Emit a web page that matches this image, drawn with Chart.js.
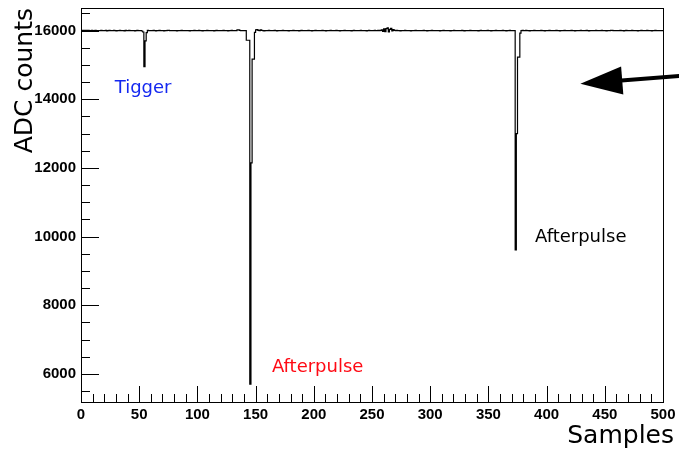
<!DOCTYPE html>
<html>
<head>
<meta charset="utf-8">
<script src="https://cdn.jsdelivr.net/npm/chart.js@4"></script>
<style>
  body { margin: 0; background: #fff; }
  canvas { display: block; }
</style>
</head>
<body>
<canvas id="grafico" width="679" height="450"></canvas>
<script>
// ADC counts per sample (bins 0..499)
const adc = [
  16010,16010,16000,16010,16000,16010,16010,16000,16000,16010,16000,16000,16010,15990,16000,16000,16000,16010,16000,16000,
  16000,16010,15990,16000,16010,16000,16000,16000,16010,16000,15990,16000,16000,16010,16000,16000,16000,15990,16010,16000,
  16000,16010,16000,16000,16000,16000,15990,16000,16010,16000,16000,16000,15990,15960,14950,15700,15940,16010,16000,16000,
  16000,16000,16010,16000,15990,16000,16000,16010,16000,16000,16000,15990,16000,16000,16010,16010,16000,16000,16000,16000,
  16000,16000,15990,16000,16000,16000,16010,16000,16000,16000,16000,16000,16000,15990,16000,16000,16000,16010,16000,16000,
  16000,16010,16000,16000,15990,16000,16000,16000,16010,16000,16000,16000,16000,16000,15990,16000,16010,16000,16000,16000,
  16000,16000,16010,16000,16000,16000,15990,16000,16000,16010,16000,16000,16000,16000,16020,16020,16010,16000,16000,16000,
  16000,16000,15720,15720,15720,5700,12150,15170,15170,15950,16020,16030,16010,16000,16020,16010,16000,15990,16000,16000,
  16000,16010,16000,16000,16000,16000,16010,16000,15990,16000,16000,16000,16000,16010,16000,16000,16000,16000,15990,16000,
  16000,16000,16010,16000,16000,16000,16000,15990,16000,16010,16000,16000,16000,16000,16000,16010,16000,16000,15990,16000,
  16000,16010,16000,16000,16000,16000,16000,16010,16000,16000,15990,16000,16000,16000,16010,16000,16000,16000,16000,16010,
  16000,16000,15990,16000,16000,16000,16010,16000,16000,16000,16000,16000,15990,16000,16010,16000,16000,16000,16000,16000,
  16010,16000,16000,16000,16000,15990,16000,16010,16000,16000,16000,16000,16010,16000,16000,16010,16000,16010,16020,15980,
  16050,15970,16060,16080,15960,16040,16070,15990,16030,16010,16000,16010,16000,16000,15990,16000,16000,16000,16010,16000,
  16000,16000,16000,15990,16000,16000,16000,16010,16000,16000,16000,16000,16000,16000,16010,16000,16000,15990,16000,16000,
  16000,16010,16000,16000,16000,16000,16000,16000,15990,16000,16000,16010,16000,16000,16000,16000,16000,15990,16000,16000,
  16010,16000,16000,16000,16000,16000,16000,16010,16000,15990,16000,16000,16000,16000,16010,16000,16000,16000,16000,16000,
  16000,15990,16000,16010,16000,16000,16000,16000,16000,16010,16000,16000,15990,16000,16000,16000,16010,16000,16000,16000,
  16000,16000,16010,16000,16000,15990,16000,16000,16010,16000,16000,16000,16000,9610,13000,15230,15230,15930,16000,16010,
  16000,16000,16010,16000,16000,15990,16000,16000,16000,16010,16000,16000,16000,16000,16000,16010,16000,16000,15990,16000,
  16000,16000,16010,16000,16000,16000,16000,16000,16010,16000,16000,15990,16000,16000,16000,16010,16000,16000,16000,16000,
  16000,16010,16000,16000,15990,16000,16000,16000,16000,16010,16000,16000,16000,16000,16010,16000,15990,16000,16000,16000,
  16000,16000,16010,16000,16000,16000,16000,16010,16000,16000,16000,15990,16000,16000,16000,16010,16010,16000,16000,16000,
  16000,16000,16000,16010,16000,16000,15990,16000,16010,16000,16000,16000,16000,16010,16000,16000,16000,16000,15990,16000,
  16000,16010,16000,16000,16000,16000,16010,16000,16000,16000,15990,16000,16000,16010,16000,16000,16000,16000,16000,16000
];

const xTicks = [0, 50, 100, 150, 200, 250, 300, 350, 400, 450, 500];
const yTicks = [6000, 8000, 10000, 12000, 14000, 16000];

// text labels: [text, sample, counts, colour]
const notes = [
  ["Tigger", 29, 14180, "#1428f0"],
  ["Afterpulse", 164, 6050, "#ff0a14"],
  ["Afterpulse", 390, 9830, "#000000"]
];
// arrow: tail -> tip in data units
const arrow = { from: [514, 14680], to: [429, 14450] };

const points = adc.map((v, i) => ({ x: i, y: v }));
points.push({ x: adc.length, y: adc[adc.length - 1] });

const rootFrame = {
  id: "rootFrame",
  afterDraw(chart) {
    const ctx = chart.ctx;
    const a = chart.chartArea;
    const xs = chart.scales.x, ys = chart.scales.y;
    ctx.save();
    ctx.strokeStyle = "#000";
    ctx.lineWidth = 1;
    ctx.strokeRect(a.left + 0.5, a.top + 0.5, a.right - a.left, a.bottom - a.top);

    // inside ticks
    ctx.beginPath();
    for (let v = 0; v <= 500; v += 10) {
      const px = Math.round(xs.getPixelForValue(v)) + 0.5;
      const len = v % 50 === 0 ? 16 : 8;
      ctx.moveTo(px, a.bottom);
      ctx.lineTo(px, a.bottom - len);
    }
    for (let v = 5500; v <= 16500; v += 500) {
      const py = Math.round(ys.getPixelForValue(v)) + 0.5;
      const len = v % 2000 === 0 ? 18 : 9;
      ctx.moveTo(a.left, py);
      ctx.lineTo(a.left + len, py);
    }
    ctx.stroke();

    // annotations
    ctx.font = "18px 'DejaVu Sans'";
    ctx.textBaseline = "alphabetic";
    ctx.textAlign = "left";
    notes.forEach(n => {
      ctx.fillStyle = n[3];
      ctx.fillText(n[0], xs.getPixelForValue(n[1]), ys.getPixelForValue(n[2]));
    });

    // arrow
    const x0 = xs.getPixelForValue(arrow.from[0]), y0 = ys.getPixelForValue(arrow.from[1]);
    const x1 = xs.getPixelForValue(arrow.to[0]), y1 = ys.getPixelForValue(arrow.to[1]);
    const dx = x1 - x0, dy = y1 - y0, d = Math.hypot(dx, dy);
    const ux = dx / d, uy = dy / d;
    const hl = 42, hw = 14;
    const bx = x1 - ux * hl, by = y1 - uy * hl;
    ctx.fillStyle = "#000";
    ctx.lineWidth = 4;
    ctx.beginPath();
    ctx.moveTo(x0, y0);
    ctx.lineTo(bx + ux * 4, by + uy * 4);
    ctx.stroke();
    ctx.beginPath();
    ctx.moveTo(x1, y1);
    ctx.lineTo(bx - uy * hw, by + ux * hw);
    ctx.lineTo(bx + uy * hw, by - ux * hw);
    ctx.closePath();
    ctx.fill();

    // axis titles
    ctx.fillStyle = "#000";
    ctx.font = "25px 'DejaVu Sans'";
    ctx.textAlign = "right";
    ctx.fillText("Samples", 674, 443);
    ctx.translate(32, 8);
    ctx.rotate(-Math.PI / 2);
    ctx.fillText("ADC counts", 0, 0);
    ctx.restore();
  }
};

const tickFont = { family: "'Liberation Sans'", size: 15, weight: "bold" };

const ctx = document.getElementById("grafico").getContext("2d");
const chart = new Chart(ctx, {
  type: "line",
  data: {
    datasets: [{
      label: "ADC",
      data: points,
      borderColor: "#000",
      borderWidth: 1.2,
      pointRadius: 0,
      stepped: true,
      fill: false
    }]
  },
  options: {
    responsive: false,
    animation: false,
    devicePixelRatio: 1,
    layout: { padding: { top: 8, right: 16, left: 0, bottom: 0 } },
    plugins: { legend: { display: false }, tooltip: { enabled: false } },
    scales: {
      x: {
        type: "linear",
        min: 0,
        max: 500,
        afterBuildTicks: s => { s.ticks = xTicks.map(v => ({ value: v })); },
        afterFit: s => { s.height = 48; s.paddingLeft = 0; s.paddingRight = 0; },
        grid: { display: false, drawTicks: false },
        border: { display: false },
        ticks: {
          padding: 4,
          maxRotation: 0,
          color: "#000",
          font: tickFont,
          callback: v => String(v)
        }
      },
      y: {
        type: "linear",
        min: 5180,
        max: 16660,
        afterBuildTicks: s => { s.ticks = yTicks.map(v => ({ value: v })); },
        afterFit: s => { s.width = 81; s.paddingTop = 0; s.paddingBottom = 0; },
        grid: { display: false, drawTicks: false },
        border: { display: false },
        ticks: {
          padding: 5,
          color: "#000",
          font: tickFont,
          callback: v => String(v)
        }
      }
    }
  },
  plugins: [rootFrame]
});
</script>
</body>
</html>
